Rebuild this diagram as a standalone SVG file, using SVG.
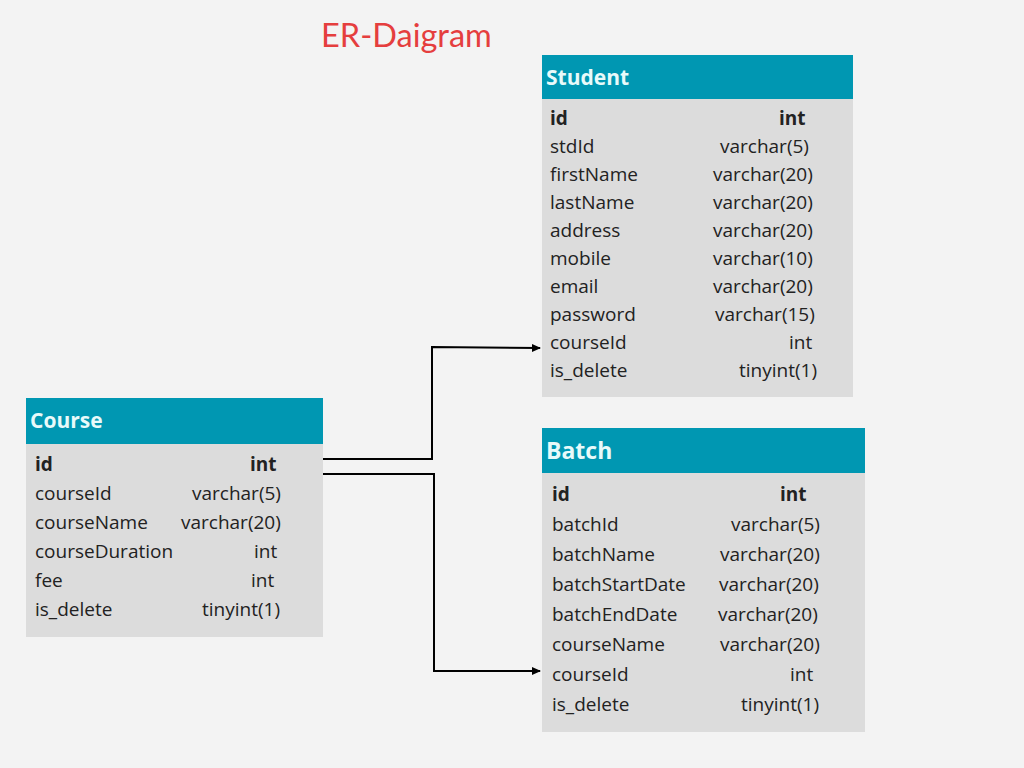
<svg xmlns="http://www.w3.org/2000/svg" width="1024" height="768" viewBox="0 0 1024 768">
<defs>
<style>
.hdr{fill:#0097b2}
.body{fill:#dcdcdc}
.ht{font-family:"Open Sans","Liberation Sans",sans-serif;font-weight:bold;fill:#e8fafa}
.t{font-family:"Open Sans","Liberation Sans",sans-serif;font-size:19px;fill:#222}
.b{font-weight:bold}
.conn{fill:none;stroke:#000;stroke-width:2}
</style>
<marker id="arr" markerWidth="10" markerHeight="10" refX="8" refY="5" orient="auto" markerUnits="userSpaceOnUse">
<path d="M0,1 L9,5 L0,9 Z" fill="#000"/>
</marker>
</defs>
<rect width="1024" height="768" fill="#f3f3f3"/>
<text x="321" y="47" font-family="Lato,'Liberation Sans',sans-serif" font-size="32.5" fill="#e53e3e">ER-Daigram</text>

<g id="student">
<rect class="body" x="542" y="99" width="311" height="298"/>
<rect class="hdr" x="542" y="55" width="311" height="44"/>
<text class="ht" x="546" y="85" font-size="21">Student</text>
<text class="t b" x="550" y="125">id</text><text class="t b" x="779" y="125">int</text>
<text class="t" x="550" y="153">stdId</text><text class="t" x="720" y="153">varchar(5)</text>
<text class="t" x="550" y="181">firstName</text><text class="t" x="713" y="181">varchar(20)</text>
<text class="t" x="550" y="209">lastName</text><text class="t" x="713" y="209">varchar(20)</text>
<text class="t" x="550" y="237">address</text><text class="t" x="713" y="237">varchar(20)</text>
<text class="t" x="550" y="265">mobile</text><text class="t" x="713" y="265">varchar(10)</text>
<text class="t" x="550" y="293">email</text><text class="t" x="713" y="293">varchar(20)</text>
<text class="t" x="550" y="321">password</text><text class="t" x="715" y="321">varchar(15)</text>
<text class="t" x="550" y="349">courseId</text><text class="t" x="789" y="349">int</text>
<text class="t" x="550" y="377">is_delete</text><text class="t" x="739" y="377">tinyint(1)</text>
</g>

<g id="course">
<rect class="body" x="26" y="444" width="297" height="193"/>
<rect class="hdr" x="26" y="398" width="297" height="46"/>
<text class="ht" x="30" y="428" font-size="21">Course</text>
<text class="t b" x="35" y="471">id</text><text class="t b" x="250" y="471">int</text>
<text class="t" x="35" y="500">courseId</text><text class="t" x="192" y="500">varchar(5)</text>
<text class="t" x="35" y="529">courseName</text><text class="t" x="181" y="529">varchar(20)</text>
<text class="t" x="35" y="558">courseDuration</text><text class="t" x="254" y="558">int</text>
<text class="t" x="35" y="587">fee</text><text class="t" x="251" y="587">int</text>
<text class="t" x="35" y="616">is_delete</text><text class="t" x="202" y="616">tinyint(1)</text>
</g>

<g id="batch">
<rect class="body" x="542" y="473" width="323" height="259"/>
<rect class="hdr" x="542" y="428" width="323" height="45"/>
<text class="ht" x="546" y="459" font-size="23">Batch</text>
<text class="t b" x="552" y="501">id</text><text class="t b" x="780" y="501">int</text>
<text class="t" x="552" y="531">batchId</text><text class="t" x="731" y="531">varchar(5)</text>
<text class="t" x="552" y="561">batchName</text><text class="t" x="720" y="561">varchar(20)</text>
<text class="t" x="552" y="591">batchStartDate</text><text class="t" x="719" y="591">varchar(20)</text>
<text class="t" x="552" y="621">batchEndDate</text><text class="t" x="718" y="621">varchar(20)</text>
<text class="t" x="552" y="651">courseName</text><text class="t" x="720" y="651">varchar(20)</text>
<text class="t" x="552" y="681">courseId</text><text class="t" x="790" y="681">int</text>
<text class="t" x="552" y="711">is_delete</text><text class="t" x="741" y="711">tinyint(1)</text>
</g>

<g id="connectors">
<polyline class="conn" points="323,459 432,459 432,347 540,348" marker-end="url(#arr)"/>
<polyline class="conn" points="323,474 434,474 434,671 540,671" marker-end="url(#arr)"/>
</g>
</svg>
